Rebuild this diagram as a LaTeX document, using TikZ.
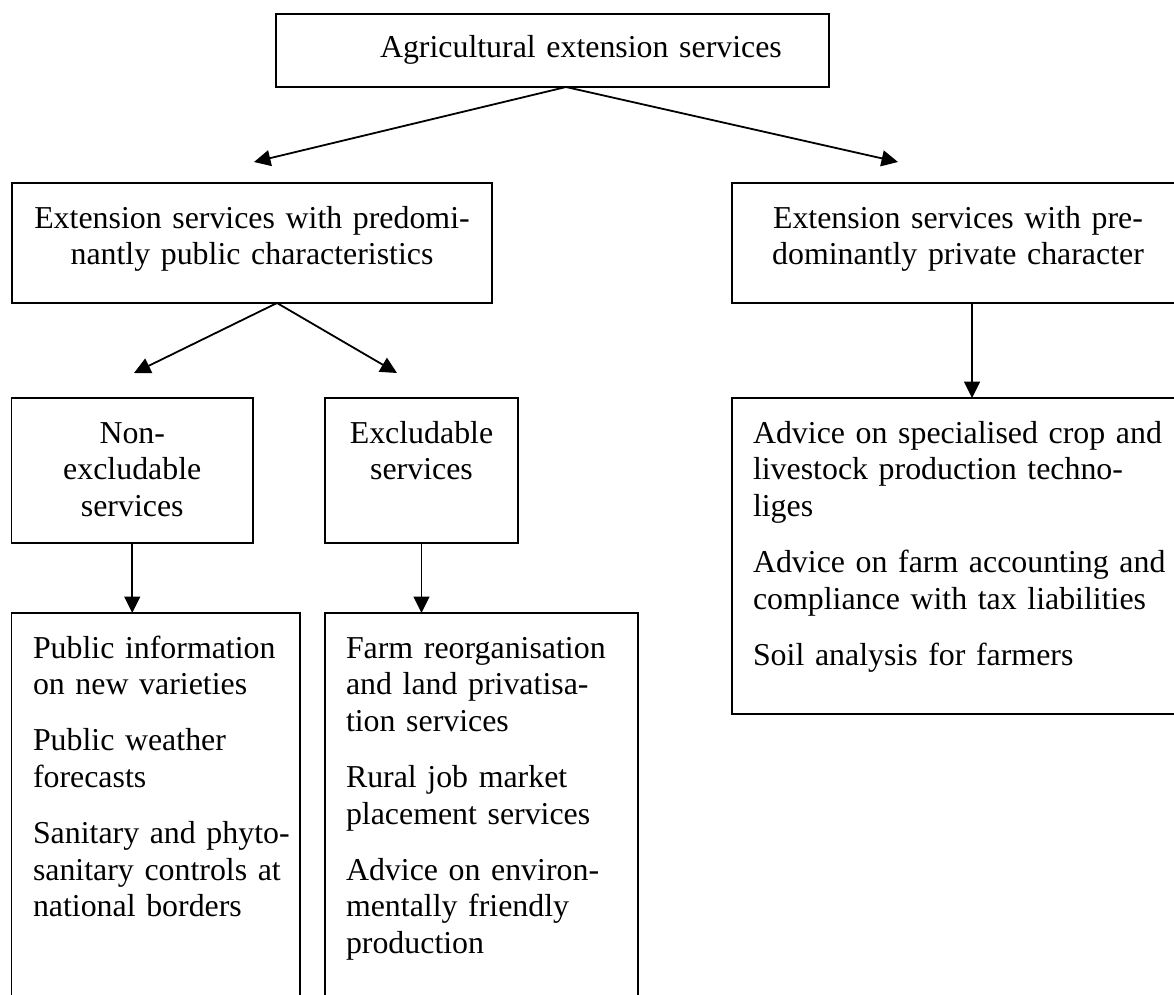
\documentclass[tikz,border=0pt]{standalone}
\usepackage{fontspec}
\setmainfont{Liberation Serif}
\usetikzlibrary{arrows.meta}
\newlength{\du}
\setlength{\du}{0.3765pt}
\definecolor{dialinecolor}{rgb}{0.000000, 0.000000, 0.000000}
\tikzset{
  dialbox/.style={draw=dialinecolor, anchor=north west, outer sep=0pt,
    inner ysep=0pt, inner xsep=21\du, text height=45\du,
    font=\fontsize{12pt}{13.75pt}\selectfont},
  diallist/.style={dialbox, align=left, inner xsep=0pt},
  dialarrow/.style={draw=dialinecolor, -{Triangle[length=6.2pt,width=6pt]}},
}
\begin{document}
\begin{tikzpicture}
\pgftransformxscale{1.000000}
\pgftransformyscale{-1.000000}
\pgfsetlinewidth{1.800000\du}
\pgfsetbuttcap
\useasboundingbox (0\du,0\du) rectangle (1174\du,994\du);
% boxes
\node[dialbox, align=left, text width=511\du, text height=43\du, text depth=30\du] (agri) at (276\du,14\du) {\hspace*{83\du}Agricultural extension services};
\node[dialbox, align=center, text width=438\du, text depth=75\du] (pub) at (12\du,183\du) {Extension services with predomi-\\nantly public characteristics};
\node[dialbox, align=center, text width=410\du, text depth=75\du] (priv) at (732\du,183\du) {Extension services with pre-\\dominantly private character};
\node[dialbox, align=center, text width=199.5\du, text depth=100\du] (nonex) at (11.5\du,398\du) {Non-\\excludable\\services};
\node[dialbox, align=center, text width=151\du, text depth=100\du] (excl) at (325\du,398\du) {Excludable\\services};
\node[diallist, text width=288.5\du, text depth=355\du] (nonexlist) at (11.5\du,613\du) {\leftskip=21.5\du\relax Public information\\on new varieties\\[7.5pt]Public weather\\forecasts\\[7.5pt]Sanitary and phyto-\\sanitary controls at\\national borders\par};
\node[diallist, text width=313\du, text depth=355\du] (exlist) at (325\du,613\du) {\leftskip=21\du\relax Farm reorganisation\\and land privatisa-\\tion services\\[7.5pt]Rural job market\\placement services\\[7.5pt]Advice on environ-\\mentally friendly\\production\par};
\node[diallist, text width=452\du, text depth=271\du] (privlist) at (732\du,398\du) {\leftskip=21\du\relax Advice on specialised crop and\\livestock production techno-\\liges\\[7.5pt]Advice on farm accounting and\\compliance with tax liabilities\\[7.5pt]Soil analysis for farmers\par};
% arrow ends
\coordinate (agriL) at (254\du,162\du);
\coordinate (agriR) at (898\du,162\du);
\coordinate (pubL) at (134\du,373\du);
\coordinate (pubR) at (397\du,373\du);
% arrows
\draw[dialarrow] ([xshift=13.5\du]agri.south) -- (agriL);
\draw[dialarrow] ([xshift=13.5\du]agri.south) -- (agriR);
\draw[dialarrow] ([xshift=25\du]pub.south) -- (pubL);
\draw[dialarrow] ([xshift=25\du]pub.south) -- (pubR);
\draw[dialarrow] (nonex.south) -- (nonex.south |- nonexlist.north);
\draw[dialarrow] (excl.south) -- (excl.south |- exlist.north);
\draw[dialarrow] ([xshift=14\du]priv.south) -- ([xshift=14\du]privlist.north);
\end{tikzpicture}
\end{document}
